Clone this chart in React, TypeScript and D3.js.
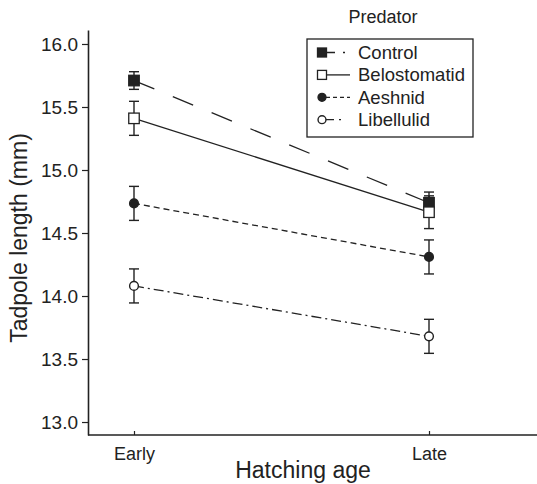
import { useEffect, useRef } from "react";
import * as d3 from "d3";

const width = 537;
const height = 484;

const hatchingAges = ["Early", "Late"];
const predators = ["Control", "Belostomatid", "Aeshnid", "Libellulid"];

// means and standard errors (mm)
const controlMean = [15.71, 14.74];
const controlSE = [0.07, 0.085];
const belostomatidMean = [15.41, 14.665];
const belostomatidSE = [0.135, 0.13];
const aeshnidMean = [14.735, 14.31];
const aeshnidSE = [0.135, 0.135];
const libellulidMean = [14.08, 13.68];
const libellulidSE = [0.135, 0.135];

const yTicks = [13.0, 13.5, 14.0, 14.5, 15.0, 15.5, 16.0];

const ink = "#222";
const font = "'Liberation Sans', Arial, Helvetica, sans-serif";

const styles = {
  Control: { shape: "square", fill: ink, dash: "22,20", legendDash: "9,8,2,30" },
  Belostomatid: { shape: "square", fill: "#fff", dash: null, legendDash: null },
  Aeshnid: { shape: "circle", fill: ink, dash: "6,4", legendDash: "4,3" },
  Libellulid: { shape: "circle", fill: "#fff", dash: "10,4,2,4", legendDash: "8,5,2,30" },
};

const series = [
  { name: predators[0], mean: controlMean, se: controlSE },
  { name: predators[1], mean: belostomatidMean, se: belostomatidSE },
  { name: predators[2], mean: aeshnidMean, se: aeshnidSE },
  { name: predators[3], mean: libellulidMean, se: libellulidSE },
];

const marginLeft = 88;
const axisBottomY = 435;
const axisTopY = 30;

const Marker = ({ shape, fill, cx, cy, size }) =>
  shape === "square" ? (
    <rect
      x={cx - size / 2}
      y={cy - size / 2}
      width={size}
      height={size}
      fill={fill}
      stroke={ink}
      strokeWidth={1.3}
    />
  ) : (
    <circle cx={cx} cy={cy} r={size / 2.4} fill={fill} stroke={ink} strokeWidth={1.4} />
  );

const App = () => {
  const yAxisRef = useRef(null);
  const xAxisRef = useRef(null);

  const xScale = d3.scalePoint().domain(hatchingAges).range([134, 429]);
  const yScale = d3.scaleLinear().domain([12.897, 16.111]).range([axisBottomY, axisTopY]);

  useEffect(() => {
    const yAxis = d3
      .axisLeft(yScale)
      .tickValues(yTicks)
      .tickFormat(d3.format(".1f"))
      .tickSize(6)
      .tickSizeOuter(0)
      .tickPadding(4);
    const gy = d3.select(yAxisRef.current).call(yAxis);
    gy.select(".domain").attr("stroke", ink).attr("stroke-width", 1.6);
    gy.selectAll(".tick line").attr("stroke", ink).attr("stroke-width", 1.2);
    gy.selectAll("text").attr("font-size", 19).attr("font-family", font).attr("fill", ink);

    const xAxis = d3.axisBottom(xScale).tickSize(-4).tickPadding(12);
    const gx = d3.select(xAxisRef.current).call(xAxis);
    gx.select(".domain").remove();
    gx.selectAll(".tick line").attr("stroke", ink).attr("stroke-width", 1.2);
    gx.selectAll("text").attr("font-size", 18).attr("font-family", font).attr("fill", ink);
  }, []);

  const line = d3
    .line()
    .x((d, i) => xScale(hatchingAges[i]))
    .y((d) => yScale(d));

  return (
    <svg
      width={width}
      height={height}
      style={{ position: "absolute", left: 0, top: 0, background: "#fff" }}
    >
      <rect width={width} height={height} fill="#fff" />

      {/* connecting lines */}
      <g className="lines">
        {series.map((s) => (
          <path
            key={s.name}
            d={line(s.mean)}
            fill="none"
            stroke={ink}
            strokeWidth={1.3}
            strokeDasharray={styles[s.name].dash || undefined}
          />
        ))}
      </g>

      {/* error bars and markers */}
      {series.map((s) => (
        <g key={s.name}>
          {s.mean.map((m, i) => {
            const cx = xScale(hatchingAges[i]);
            const top = yScale(m + s.se[i]);
            const bot = yScale(m - s.se[i]);
            return (
              <g key={i} stroke={ink} strokeWidth={1.4}>
                <line x1={cx} x2={cx} y1={top} y2={bot} />
                <line x1={cx - 5} x2={cx + 5} y1={top} y2={top} />
                <line x1={cx - 5} x2={cx + 5} y1={bot} y2={bot} />
              </g>
            );
          })}
          {s.mean.map((m, i) => (
            <Marker
              key={"m" + i}
              shape={styles[s.name].shape}
              fill={styles[s.name].fill}
              cx={xScale(hatchingAges[i])}
              cy={yScale(m)}
              size={10.5}
            />
          ))}
        </g>
      ))}

      {/* axes */}
      <g ref={yAxisRef} transform={`translate(${marginLeft},0)`} />
      <g ref={xAxisRef} transform={`translate(0,${axisBottomY})`} />
      <line x1={marginLeft} x2={width} y1={axisBottomY} y2={axisBottomY} stroke={ink} strokeWidth={1.6} />

      <text
        transform={`translate(27,${238}) rotate(-90)`}
        textAnchor="middle"
        fontSize={23}
        fontFamily={font}
        fill={ink}
      >
        Tadpole length (mm)
      </text>
      <text x={303} y={478} textAnchor="middle" fontSize={23} fontFamily={font} fill={ink}>
        Hatching age
      </text>

      {/* legend */}
      <text x={383} y={23} textAnchor="middle" fontSize={18} fontFamily={font} fill={ink}>
        Predator
      </text>
      <rect x={307} y={39} width={166} height={98} fill="none" stroke={ink} strokeWidth={1.3} />
      {predators.map((p, i) => {
        const cy = 52.5 + i * 22.4;
        const st = styles[p];
        return (
          <g key={p}>
            <line
              x1={326}
              x2={350}
              y1={cy}
              y2={cy}
              stroke={ink}
              strokeWidth={1.3}
              strokeDasharray={st.legendDash || undefined}
            />
            <Marker shape={st.shape} fill={st.fill} cx={322} cy={cy} size={st.shape === "square" ? 9 : 9.5} />
            <text x={358} y={cy + 6.5} fontSize={18.5} fontFamily={font} fill={ink}>
              {p}
            </text>
          </g>
        );
      })}
    </svg>
  );
};

export default App;
